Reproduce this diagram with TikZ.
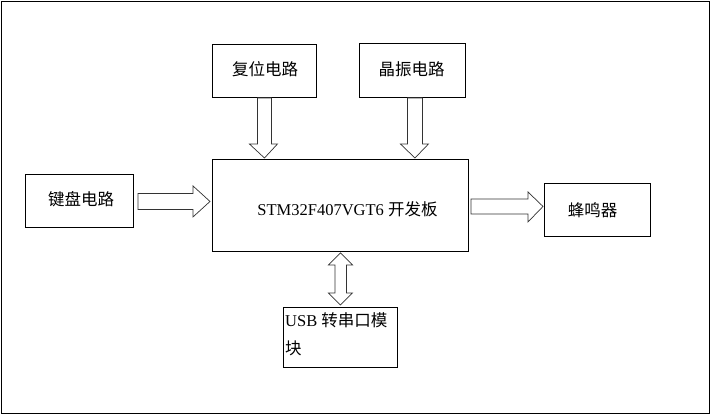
\documentclass[tikz,border=0pt]{standalone}
\usepackage{fontspec}
\setmainfont{Liberation Serif}
\newfontfamily\cjk{Noto Sans CJK SC}
\usetikzlibrary{calc}
\begin{document}
\begin{tikzpicture}[x=1pt,y=-1pt,
  box/.style={draw=black,line width=0.9pt,rectangle,inner sep=0pt,anchor=north west},
  lbl/.style={inner sep=0pt,font=\fontsize{16.5}{20}\selectfont},
  blk/.style={draw=black!80,line width=0.7pt,fill=white,line join=miter}]
\useasboundingbox (0,0) rectangle (710,415);
\draw[line width=1pt] (1.5,1.5) rectangle (709,413.5);
% boxes
\node[box,minimum width=104pt,minimum height=53pt] (rs) at (212,44) {};
\node[box,minimum width=106pt,minimum height=54pt] (xt) at (359,43) {};
\node[box,minimum width=256pt,minimum height=92pt] (mb) at (212,159) {};
\node[box,minimum width=108pt,minimum height=53pt] (kb) at (25,174) {};
\node[box,minimum width=106pt,minimum height=53pt] (bz) at (544,183) {};
\node[box,minimum width=114pt,minimum height=60pt] (usb) at (283,307) {};
% texts
\node[lbl] (trs) at (265,69) {\cjk 复位电路};
\node[lbl] (txt) at (411.5,69) {\cjk 晶振电路};
\node[lbl] (tkb) at (81,199) {\cjk 键盘电路};
\node[lbl] (tbz) at (592.5,210) {\cjk 蜂鸣器};
\node[lbl] (tmb) at (347.5,209) {STM32F407VGT6 {\cjk 开发板}};
\node[lbl,anchor=north west,align=left,font=\fontsize{16.5}{28}\selectfont] (tusb) at (285,312) {USB {\cjk 转串口模}\\{\cjk 块}};
% block arrows (offsets in picture coordinates, y downwards)
% reset -> main
\coordinate (a1) at (rs.south);
\coordinate (a2) at ($(rs.south |- mb.north)+(0,-1)$);
\draw[blk] ($(a1)+(-7,0)$) -- ($(a2)+(-7,-14)$) -- ($(a2)+(-15,-14)$) -- (a2)
  -- ($(a2)+(13,-14)$) -- ($(a2)+(7,-14)$) -- ($(a1)+(7,0)$) -- cycle;
% crystal -> main
\coordinate (b1) at ($(xt.south)+(2.5,0)$);
\coordinate (b2) at ($(b1 |- mb.north)+(0,-1)$);
\draw[blk] ($(b1)+(-7.5,0)$) -- ($(b2)+(-7.5,-14)$) -- ($(b2)+(-14.5,-14)$) -- (b2)
  -- ($(b2)+(13.5,-14)$) -- ($(b2)+(7.5,-14)$) -- ($(b1)+(7.5,0)$) -- cycle;
% keyboard -> main
\coordinate (c1) at ($(kb.east)+(4,0.5)$);
\coordinate (c2) at ($(c1 -| mb.west)+(-2,0)$);
\draw[blk] ($(c1)+(0,-8)$) -- ($(c2)+(-17,-8)$) -- ($(c2)+(-17,-15.5)$) -- (c2)
  -- ($(c2)+(-17,15.5)$) -- ($(c2)+(-17,8)$) -- ($(c1)+(0,8)$) -- cycle;
% main -> buzzer
\coordinate (d2) at ($(bz.west)+(-1,-3.5)$);
\coordinate (d1) at ($(d2 -| mb.east)+(2,0)$);
\draw[blk] ($(d1)+(0,-7.5)$) -- ($(d2)+(-15,-7.5)$) -- ($(d2)+(-15,-14.5)$) -- (d2)
  -- ($(d2)+(-15,15.5)$) -- ($(d2)+(-15,7.5)$) -- ($(d1)+(0,7.5)$) -- cycle;
% main <-> usb
\coordinate (e1) at ($(usb.north |- mb.south)+(0,1)$);
\coordinate (e2) at ($(usb.north)+(0,-2)$);
\draw[blk] (e1) -- ($(e1)+(12,12)$) -- ($(e1)+(6,12)$) -- ($(e2)+(6,-12)$) -- ($(e2)+(12,-12)$)
  -- (e2) -- ($(e2)+(-12,-12)$) -- ($(e2)+(-5.5,-12)$) -- ($(e1)+(-5.5,12)$) -- ($(e1)+(-12,12)$) -- cycle;
\end{tikzpicture}
\end{document}
